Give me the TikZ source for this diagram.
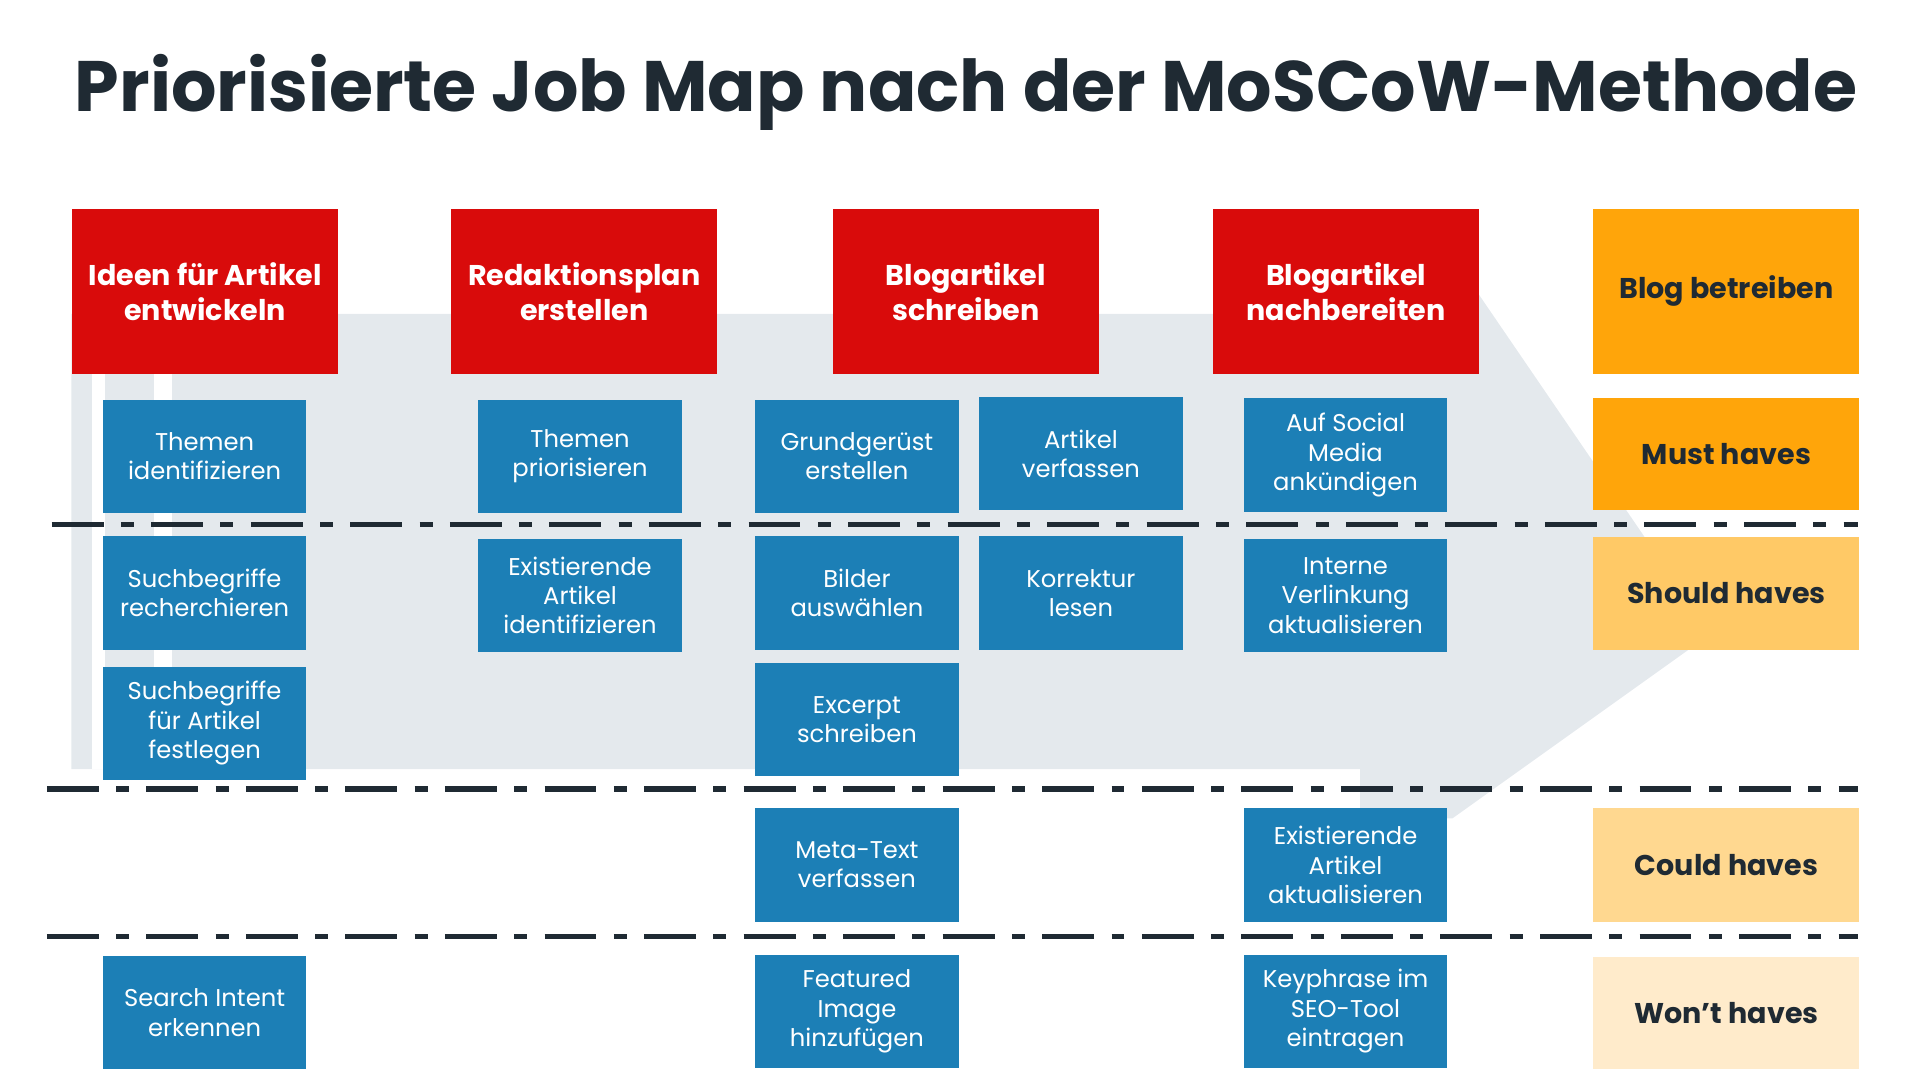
\documentclass[tikz,border=0pt]{standalone}
\usepackage{fontspec}
\setmainfont{Poppins}
\definecolor{slate}{HTML}{1F2A33}
\definecolor{jobred}{HTML}{D90B0B}
\definecolor{jobblue}{HTML}{1C7FB6}
\definecolor{arrowgray}{HTML}{E4E9ED}
\definecolor{mustorange}{HTML}{FFA50A}
\definecolor{shouldorange}{HTML}{FFC966}
\definecolor{couldorange}{HTML}{FFD890}
\definecolor{wontorange}{HTML}{FFEBCB}
\tikzset{
  jobstep/.style={fill=jobred,text=white,anchor=north west,minimum width=2.16cm,minimum height=1.34cm,
    align=center,inner sep=0pt,font=\fontsize{6.6}{8}\selectfont\bfseries},
  job/.style={fill=jobblue,text=white,anchor=north west,minimum width=1.65cm,minimum height=0.92cm,
    align=center,inner sep=0pt,font=\fontsize{5.6}{6.8}\selectfont},
  prio/.style={text=slate,anchor=north west,minimum width=2.16cm,align=center,inner sep=0pt,
    font=\fontsize{6.6}{8}\selectfont\bfseries},
  split/.style={slate,line width=1.2pt,dash pattern=on 12pt off 4pt on 3pt off 4pt}
}
\begin{document}
\begin{tikzpicture}[x=0.01cm,y=-0.01cm]
\useasboundingbox (0,0) rectangle (1560,878);
% background arrow
\fill[arrowgray] (58,255) -- (1200,255) -- (1200,237) -- (1390,515) -- (1180,665) -- (1105,665) -- (1105,625) -- (58,625) -- cycle;
\fill[white] (75,303) rectangle (85,625);
\fill[white] (125,303) rectangle (140,625);
\node[text=slate,font=\fontsize{16.5}{20}\selectfont\bfseries] (title) at (785,75) {Priorisierte Job Map nach der MoSCoW-Methode};

% job steps
\node[jobstep] (ideen) at (58,169) {Ideen für Artikel\\entwickeln};
\node[jobstep] (plan) at (366,169) {Redaktionsplan\\erstellen};
\node[jobstep] (schreiben) at (676,169) {Blogartikel\\schreiben};
\node[jobstep] (nach) at (985,169) {Blogartikel\\nachbereiten};

% priorities
\node[prio,fill=mustorange,minimum height=1.34cm] (blog) at (1294,169) {Blog betreiben};
\node[prio,fill=mustorange,minimum height=0.91cm] (must) at (1294,323) {Must haves};
\node[prio,fill=shouldorange,minimum height=0.91cm] (should) at (1294,436) {Should haves};
\node[prio,fill=couldorange,minimum height=0.92cm] (could) at (1294,656) {Could haves};
\node[prio,fill=wontorange,minimum height=0.91cm] (wont) at (1294,777) {Won’t haves};

% column 1
\node[job] (themen) at (83,324) {Themen\\identifizieren};
\node[job] (recherche) at (83,435) {Suchbegriffe\\recherchieren};
\node[job] (festlegen) at (83,541) {Suchbegriffe\\für Artikel\\festlegen};
\node[job] (intent) at (83,776) {Search Intent\\erkennen};
% column 2
\node[job] (prior) at (388,324) {Themen\\priorisieren};
\node[job] (existid) at (388,437) {Existierende\\Artikel\\identifizieren};
% column 3
\node[job] (geruest) at (613,324) {Grundgerüst\\erstellen};
\node[job] (bilder) at (613,435) {Bilder\\auswählen};
\node[job] (excerpt) at (613,538) {Excerpt\\schreiben};
\node[job] (meta) at (613,656) {Meta-Text\\verfassen};
\node[job] (featured) at (613,775) {Featured\\Image\\hinzufügen};
\node[job] (verfassen) at (795,322) {Artikel\\verfassen};
\node[job] (korrektur) at (795,435) {Korrektur\\lesen};
% column 4
\node[job] (social) at (1010,323) {Auf Social\\Media\\ankündigen};
\node[job] (verlinkung) at (1010,437) {Interne\\Verlinkung\\aktualisieren};
\node[job] (existakt) at (1010,656) {Existierende\\Artikel\\aktualisieren};
\node[job] (keyphrase) at (1010,775) {Keyphrase im\\SEO-Tool\\eintragen};

% priority borders
\coordinate (m1) at (42,426); \coordinate (m2) at (1510,426);
\coordinate (s1) at (38,641); \coordinate (s2) at (1510,641);
\coordinate (c1) at (38,761); \coordinate (c2) at (1510,761);
\draw[split] (m1) -- (m2);
\draw[split] (s1) -- (s2);
\draw[split] (c1) -- (c2);
\end{tikzpicture}
\end{document}
